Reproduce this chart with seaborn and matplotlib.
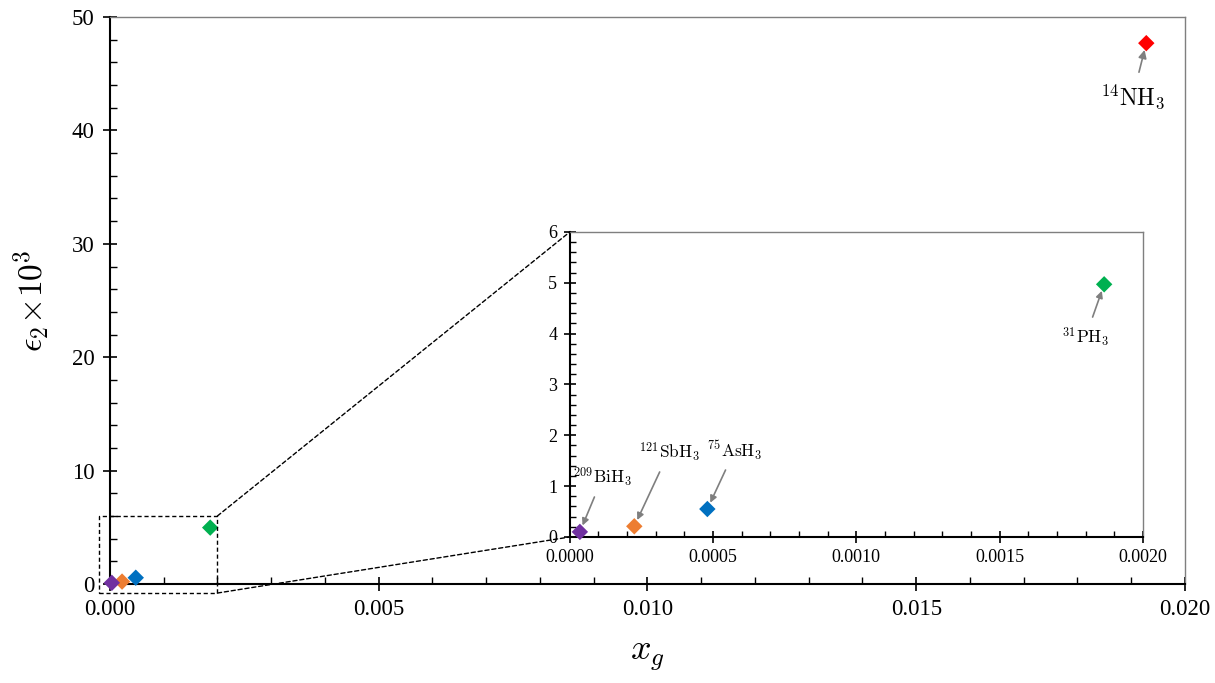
import matplotlib
matplotlib.use("Agg")
import matplotlib.pyplot as plt
import seaborn as sns
import pandas as pd
from matplotlib.patches import Rectangle, ConnectionPatch
from matplotlib.ticker import MultipleLocator, FormatStrFormatter

molecules = ["$^{14}\\mathrm{NH}_3$", "$^{31}\\mathrm{PH}_3$", "$^{75}\\mathrm{AsH}_3$",
             "$^{121}\\mathrm{SbH}_3$", "$^{209}\\mathrm{BiH}_3$"]
x_g = [0.01928, 0.001865, 0.000480, 0.000225, 0.000035]
eps2 = [47.7, 4.97, 0.55, 0.21, 0.10]
colors = ["#FF0000", "#00B050", "#0070C0", "#ED7D31", "#7030A0"]

df = pd.DataFrame({"x": x_g, "y": eps2, "mol": molecules})
palette = dict(zip(molecules, colors))

sns.set_style("ticks")
plt.rcParams["font.family"] = ["Liberation Serif", "DejaVu Serif"]
plt.rcParams["mathtext.fontset"] = "cm"
plt.rcParams["xtick.direction"] = "in"
plt.rcParams["ytick.direction"] = "in"
for k in ["text.color", "axes.labelcolor", "xtick.color", "ytick.color"]:
    plt.rcParams[k] = "black"

fig = plt.figure(figsize=(12.15, 6.83), dpi=100)
ax = fig.add_axes([0.0905, 0.145, 0.8848, 0.830])
sns.scatterplot(data=df, x="x", y="y", hue="mol", palette=palette, marker="D",
                s=70, edgecolor="none", legend=False, ax=ax, zorder=3, clip_on=False)
ax.set_xlim(0, 0.020)
ax.set_ylim(0, 50)
ax.xaxis.set_major_locator(MultipleLocator(0.005))
ax.xaxis.set_minor_locator(MultipleLocator(0.001))
ax.yaxis.set_major_locator(MultipleLocator(10))
ax.yaxis.set_minor_locator(MultipleLocator(2))
ax.xaxis.set_major_formatter(FormatStrFormatter("%.3f"))
ax.tick_params(which="major", direction="inout", length=10, width=1.2, labelsize=16.5, pad=6)
ax.tick_params(which="minor", direction="in", length=5, width=1)
ax.set_xlabel("$x_g$", fontsize=26, labelpad=14)
ax.set_ylabel("$\\epsilon_2\\!\\times\\!10^3$", fontsize=24, labelpad=14)
for s in ["left", "bottom"]:
    ax.spines[s].set_color("black"); ax.spines[s].set_linewidth(1.5)
for s in ["top", "right"]:
    ax.spines[s].set_color("#7f7f7f"); ax.spines[s].set_linewidth(1.0)

ax.annotate(molecules[0], xy=(x_g[0], eps2[0]), xytext=(0.01903, 43.0),
            fontsize=17, ha="center", va="center",
            arrowprops=dict(arrowstyle="-|>", color="#7f7f7f", lw=1.2, shrinkA=5, shrinkB=5,
                            mutation_scale=12))

rect = Rectangle((-0.0002, -0.8), 0.0022, 6.8, fill=False, linestyle=(0, (3, 2)),
                 linewidth=1.0, edgecolor="black", clip_on=False, zorder=4)
ax.add_patch(rect)

ins = fig.add_axes([0.469, 0.2138, 0.4716, 0.4466])
sns.scatterplot(data=df.iloc[1:], x="x", y="y", hue="mol", palette=palette, marker="D",
                s=70, edgecolor="none", legend=False, ax=ins, zorder=3, clip_on=False)
ins.set_xlim(0, 0.002)
ins.set_ylim(0, 6)
ins.xaxis.set_major_locator(MultipleLocator(0.0005))
ins.xaxis.set_minor_locator(MultipleLocator(0.0001))
ins.yaxis.set_major_locator(MultipleLocator(1))
ins.yaxis.set_minor_locator(MultipleLocator(0.2))
ins.xaxis.set_major_formatter(FormatStrFormatter("%.4f"))
ins.tick_params(which="major", direction="inout", length=8, width=1.2, labelsize=13, pad=5)
ins.tick_params(which="minor", direction="in", length=4, width=1)
ins.set_xlabel(""); ins.set_ylabel("")
for s in ["left", "bottom"]:
    ins.spines[s].set_color("black"); ins.spines[s].set_linewidth(1.5)
for s in ["top", "right"]:
    ins.spines[s].set_color("#7f7f7f"); ins.spines[s].set_linewidth(1.0)

text_pos = [(0.00180, 3.93), (0.000576, 1.71), (0.000346, 1.67), (0.000115, 1.18)]
for i, (tx, ty) in enumerate(text_pos, start=1):
    ins.annotate(molecules[i], xy=(x_g[i], eps2[i]), xytext=(tx, ty),
                 fontsize=12.5, ha="center", va="center",
                 arrowprops=dict(arrowstyle="-|>", color="#7f7f7f", lw=1.2, shrinkA=4, shrinkB=5,
                                 mutation_scale=10))

for (xa, ya), (xb, yb) in [((0.002, 6.0), (0, 1)), ((0.002, -0.8), (0, 0))]:
    cp = ConnectionPatch(xyA=(xa, ya), coordsA=ax.transData, xyB=(xb, yb), coordsB=ins.transAxes,
                         linestyle=(0, (3, 2)), linewidth=1.0, color="black")
    fig.add_artist(cp)

fig.savefig("out.png", dpi=100)
